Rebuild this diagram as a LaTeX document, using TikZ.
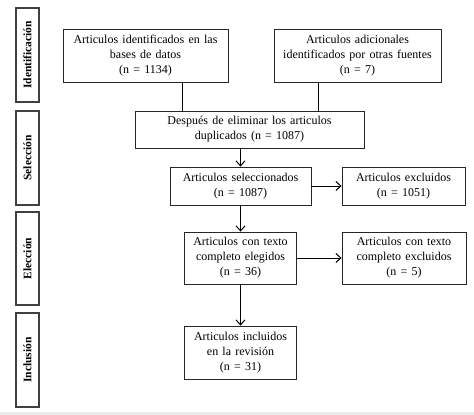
\documentclass[tikz,border=0pt]{standalone}
\usepackage{fontspec}
\setmainfont{Liberation Serif}
\usepackage{tikz}
\usetikzlibrary{calc,arrows.meta}

\newcommand{\anchoesp}{\spaceskip=4.2pt plus 1pt\relax}
\tikzset{
  caja/.style={draw=black!85,line width=0.8pt,align=center,inner sep=0pt,
    font=\fontsize{12}{15}\selectfont\anchoesp},
  fase/.style={draw=black!75,line width=1.2pt,inner sep=0pt,minimum height=23pt,
    rotate=90,font=\bfseries\fontsize{11.5}{13}\selectfont},
  flecha/.style={line width=1pt,-{Straight Barb[length=5pt,width=9pt]}},
  linea/.style={line width=1pt}
}

\begin{document}
\begin{tikzpicture}[x=1pt,y=-1pt]
                      \useasboundingbox (0,0) rectangle (474,415);
                      \fill[black!8] (0,412) rectangle (474,415);
                      % fases
                      \node[fase,minimum width=94pt] (fid) at (27.5,55) {Identificación};
                      \node[fase,minimum width=94pt] (fse) at (27.5,158) {Selección};
                      \node[fase,minimum width=93pt] (fel) at (27.5,258.5) {Elección};
                      \node[fase,minimum width=94pt] (fin) at (27.5,360) {Inclusión};
                      % cajas
                      \node[caja,minimum width=165pt,minimum height=53pt] (bases) at (145.5,55.5) {Articulos identificados en las\\bases de datos\\(n = 1134)};
                      \node[caja,minimum width=167pt,minimum height=53pt] (otras) at (357.5,55.5) {Articulos adicionales\\identificados por otras fuentes\\(n = 7)};
                      \node[caja,minimum width=229pt,minimum height=37pt] (dupl) at (249.5,129.5) {Después de eliminar los articulos\\duplicados (n = 1087)};
                      \node[caja,minimum width=141pt,minimum height=38pt] (selec) at (240.5,186) {Articulos seleccionados\\(n = 1087)};
                      \node[caja,minimum width=123pt,minimum height=38pt] (exclu) at (403.5,186) {Articulos excluidos\\(n = 1051)};
                      \node[caja,minimum width=112pt,minimum height=52pt] (elegi) at (240.5,258) {Articulos con texto\\completo elegidos\\(n = 36)};
                      \node[caja,minimum width=124pt,minimum height=52pt] (exclt) at (404,258) {Articulos con texto\\completo excluidos\\(n = 5)};
                      \node[caja,minimum width=112pt,minimum height=53pt] (inclu) at (240.5,352.5) {Articulos incluidos\\en la revisión\\(n = 31)};
                      % conectores
                      \draw[linea] ([xshift=36.5pt]bases.south) -- ([xshift=36.5pt]bases.south |- dupl.north);
                      \draw[linea] ([xshift=-39.5pt]otras.south) -- ([xshift=-39.5pt]otras.south |- dupl.north);
                      \draw[flecha] (dupl.south -| selec.north) -- (selec.north);
                      \draw[flecha] (selec.east) -- (exclu.west);
                      \draw[flecha] (selec.south) -- (elegi.north);
                      \draw[flecha] (elegi.east) -- (exclt.west);
                      \draw[flecha] (elegi.south) -- (inclu.north);
\end{tikzpicture}
\end{document}
